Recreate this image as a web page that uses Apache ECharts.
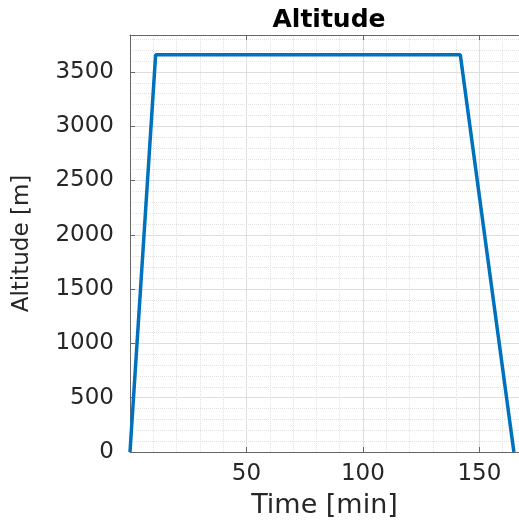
<!DOCTYPE html>
<html>
<head>
<meta charset="utf-8">
<script src="https://cdn.jsdelivr.net/npm/echarts@6/dist/echarts.min.js"></script>
<style>
  html, body { margin: 0; padding: 0; background: #fff; }
  #main { width: 519px; height: 529px; }
</style>
</head>
<body>
<div id="main"></div>
<script>
// altitude profile (time in min, altitude in m)
var timeMin = [0, 11, 141.8, 164.8];
var altitudeM = [0, 3657.6, 3657.6, 0];
var xTicks = [50, 100, 150];

var points = timeMin.map(function (t, i) { return [t, altitudeM[i]]; });

var txt = '#262626';
var font = 'DejaVu Sans';

var myChart = echarts.init(document.getElementById('main'));

var option = {
    backgroundColor: '#fff',
    animation: false,
    title: {
        text: 'Altitude',
        left: 324,
        top: 3,
        textAlign: 'center',
        textStyle: { color: '#000', fontFamily: font, fontWeight: 'bold', fontSize: 25 }
    },
    grid: { left: 130, top: 35, right: -1, bottom: 77 },
    xAxis: [
        {
            type: 'value',
            min: 0,
            max: 167,
            interval: 50,
            name: 'Time [min]',
            nameLocation: 'middle',
            nameGap: 40,
            nameTextStyle: { color: txt, fontFamily: font, fontSize: 27 },
            axisLine: { show: true, onZero: false, lineStyle: { color: '#666', width: 1 } },
            axisTick: { show: true, inside: true, length: 5, lineStyle: { color: '#666' } },
            minorTick: { show: false, splitNumber: 5 },
            axisLabel: {
                color: txt, fontFamily: font, fontSize: 23, margin: 11,
                showMinLabel: false, showMaxLabel: false,
                formatter: function (v) { return xTicks.indexOf(v) >= 0 ? String(v) : ''; }
            },
            splitLine: { show: true, lineStyle: { color: '#dedede', width: 1 } },
            minorSplitLine: { show: true, lineStyle: { color: '#e2e2e2', type: 'dotted', width: 1 } }
        },
        {
            type: 'value',
            position: 'top',
            min: 0,
            max: 167,
            interval: 50,
            axisLine: { show: true, onZero: false, lineStyle: { color: '#666', width: 1 } },
            axisTick: { show: true, inside: true, length: 5, lineStyle: { color: '#666' } },
            axisLabel: { show: false },
            splitLine: { show: false }
        }
    ],
    yAxis: {
        type: 'value',
        min: 0,
        max: 3840,
        interval: 500,
        name: 'Altitude [m]',
        nameLocation: 'middle',
        nameGap: 96,
        nameTextStyle: { color: txt, fontFamily: font, fontSize: 23 },
        axisLine: { show: true, onZero: false, lineStyle: { color: '#666', width: 1 } },
        axisTick: { show: true, inside: true, length: 5, lineStyle: { color: '#666' } },
        minorTick: { show: false, splitNumber: 5 },
        axisLabel: {
            color: txt, fontFamily: font, fontSize: 23, margin: 16, showMaxLabel: false,
            formatter: function (v) { return String(v); }
        },
        splitLine: { show: true, lineStyle: { color: '#dedede', width: 1 } },
        minorSplitLine: { show: true, lineStyle: { color: '#e2e2e2', type: 'dotted', width: 1 } }
    },
    series: [
        {
            name: 'Altitude',
            type: 'line',
            data: points,
            showSymbol: false,
            lineStyle: { color: '#0072BD', width: 3.5 },
            clip: false
        }
    ]
};

myChart.setOption(option);
</script>
</body>
</html>
